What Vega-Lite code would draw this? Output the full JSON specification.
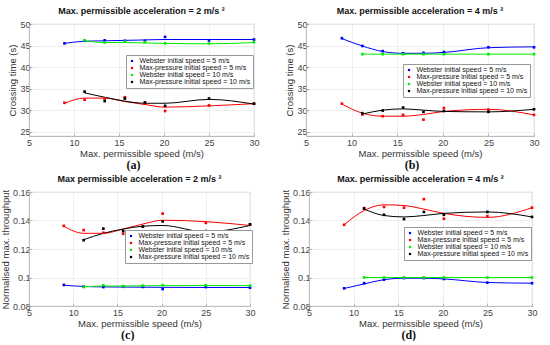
{
"$schema": "https://vega.github.io/schema/vega-lite/v6.json",
"padding": {"left": 0, "top": 6, "right": 4, "bottom": 0},
"background": "white",
"config": {
  "font": "Liberation Sans",
  "view": {"stroke": "#b5b5b5", "strokeWidth": 0.8},
  "axis": {"grid": true, "gridColor": "#ebebeb", "gridWidth": 0.8, "domainColor": "#b5b5b5", "domainWidth": 0.8, "tickColor": "#b5b5b5", "tickSize": -3, "labelPadding": 2, "labelFontSize": 9, "labelColor": "#444", "labelOverlap": false, "labelFlush": false, "titleFontSize": 9.5, "titleFontWeight": "normal", "titleColor": "#333", "titlePadding": 2},
  "axisX": {"labelPadding": 5, "titlePadding": 1},
  "title": {"fontSize": 9, "fontWeight": "bold", "color": "#111", "offset": 4, "anchor": "middle"},
  "legend": {"orient": "none", "labelFontSize": 7, "labelColor": "#111", "symbolType": "square", "symbolSize": 5, "rowPadding": -1, "padding": 2.5, "strokeColor": "#999", "fillColor": "white", "labelLimit": 200, "symbolStrokeWidth": 0, "labelOffset": 4},
  "concat": {"spacing": 20}
},
"datasets": {
 "d": [
  {"p":"a","s":"Webster initial speed = 5 m/s","x":8.94,"y":45.5,"f":45.5},
  {"p":"a","s":"Webster initial speed = 5 m/s","x":11.18,"y":46.1,"f":46.0},
  {"p":"a","s":"Webster initial speed = 5 m/s","x":13.41,"y":46.2,"f":46.1},
  {"p":"a","s":"Webster initial speed = 5 m/s","x":15.65,"y":46.1,"f":46.2},
  {"p":"a","s":"Webster initial speed = 5 m/s","x":17.88,"y":46.1,"f":46.3},
  {"p":"a","s":"Webster initial speed = 5 m/s","x":20.12,"y":47.0,"f":46.4},
  {"p":"a","s":"Webster initial speed = 5 m/s","x":25,"y":46.2,"f":46.4},
  {"p":"a","s":"Webster initial speed = 5 m/s","x":30,"y":46.4,"f":46.4},
  {"p":"a","s":"Max-pressure initial speed = 5 m/s","x":8.94,"y":31.7,"f":31.6},
  {"p":"a","s":"Max-pressure initial speed = 5 m/s","x":11.18,"y":32.4,"f":32.8},
  {"p":"a","s":"Max-pressure initial speed = 5 m/s","x":13.41,"y":32.7,"f":32.8},
  {"p":"a","s":"Max-pressure initial speed = 5 m/s","x":15.65,"y":33.0,"f":32.0},
  {"p":"a","s":"Max-pressure initial speed = 5 m/s","x":17.88,"y":31.5,"f":31.3},
  {"p":"a","s":"Max-pressure initial speed = 5 m/s","x":20.12,"y":29.8,"f":30.7},
  {"p":"a","s":"Max-pressure initial speed = 5 m/s","x":25,"y":31.1,"f":31.0},
  {"p":"a","s":"Max-pressure initial speed = 5 m/s","x":30,"y":31.5,"f":31.5},
  {"p":"a","s":"Webster initial speed = 10 m/s","x":11.18,"y":46.2,"f":46.1},
  {"p":"a","s":"Webster initial speed = 10 m/s","x":13.41,"y":45.7,"f":45.7},
  {"p":"a","s":"Webster initial speed = 10 m/s","x":15.65,"y":45.9,"f":45.7},
  {"p":"a","s":"Webster initial speed = 10 m/s","x":17.88,"y":45.8,"f":45.6},
  {"p":"a","s":"Webster initial speed = 10 m/s","x":20.12,"y":45.5,"f":45.5},
  {"p":"a","s":"Webster initial speed = 10 m/s","x":25,"y":45.5,"f":45.4},
  {"p":"a","s":"Webster initial speed = 10 m/s","x":30,"y":45.8,"f":45.7},
  {"p":"a","s":"Max-pressure initial speed = 10 m/s","x":11.18,"y":34.3,"f":34.0},
  {"p":"a","s":"Max-pressure initial speed = 10 m/s","x":13.41,"y":32.1,"f":33.0},
  {"p":"a","s":"Max-pressure initial speed = 10 m/s","x":15.65,"y":32.7,"f":32.1},
  {"p":"a","s":"Max-pressure initial speed = 10 m/s","x":17.88,"y":31.8,"f":31.6},
  {"p":"a","s":"Max-pressure initial speed = 10 m/s","x":20.12,"y":31.0,"f":31.6},
  {"p":"a","s":"Max-pressure initial speed = 10 m/s","x":25,"y":32.7,"f":32.5},
  {"p":"a","s":"Max-pressure initial speed = 10 m/s","x":30,"y":31.5,"f":31.4},

  {"p":"b","s":"Webster initial speed = 5 m/s","x":8.94,"y":46.7,"f":46.6},
  {"p":"b","s":"Webster initial speed = 5 m/s","x":11.18,"y":44.9,"f":44.9},
  {"p":"b","s":"Webster initial speed = 5 m/s","x":13.41,"y":43.7,"f":43.6},
  {"p":"b","s":"Webster initial speed = 5 m/s","x":15.65,"y":43.2,"f":43.2},
  {"p":"b","s":"Webster initial speed = 5 m/s","x":17.88,"y":43.3,"f":43.2},
  {"p":"b","s":"Webster initial speed = 5 m/s","x":20.12,"y":43.5,"f":43.4},
  {"p":"b","s":"Webster initial speed = 5 m/s","x":25,"y":44.6,"f":44.5},
  {"p":"b","s":"Webster initial speed = 5 m/s","x":30,"y":44.6,"f":44.7},
  {"p":"b","s":"Max-pressure initial speed = 5 m/s","x":8.94,"y":31.5,"f":31.4},
  {"p":"b","s":"Max-pressure initial speed = 5 m/s","x":11.18,"y":29.0,"f":29.3},
  {"p":"b","s":"Max-pressure initial speed = 5 m/s","x":13.41,"y":28.6,"f":28.6},
  {"p":"b","s":"Max-pressure initial speed = 5 m/s","x":15.65,"y":28.9,"f":28.6},
  {"p":"b","s":"Max-pressure initial speed = 5 m/s","x":17.88,"y":27.8,"f":29.0},
  {"p":"b","s":"Max-pressure initial speed = 5 m/s","x":20.12,"y":30.5,"f":29.7},
  {"p":"b","s":"Max-pressure initial speed = 5 m/s","x":25,"y":30.1,"f":30.2},
  {"p":"b","s":"Max-pressure initial speed = 5 m/s","x":30,"y":28.9,"f":28.9},
  {"p":"b","s":"Webster initial speed = 10 m/s","x":11.18,"y":43.0,"f":43.0},
  {"p":"b","s":"Webster initial speed = 10 m/s","x":13.41,"y":43.0,"f":43.0},
  {"p":"b","s":"Webster initial speed = 10 m/s","x":15.65,"y":43.0,"f":43.0},
  {"p":"b","s":"Webster initial speed = 10 m/s","x":17.88,"y":43.0,"f":43.0},
  {"p":"b","s":"Webster initial speed = 10 m/s","x":20.12,"y":43.0,"f":43.0},
  {"p":"b","s":"Webster initial speed = 10 m/s","x":25,"y":43.0,"f":43.0},
  {"p":"b","s":"Webster initial speed = 10 m/s","x":30,"y":43.0,"f":43.0},
  {"p":"b","s":"Max-pressure initial speed = 10 m/s","x":11.18,"y":29.3,"f":29.1},
  {"p":"b","s":"Max-pressure initial speed = 10 m/s","x":13.41,"y":29.9,"f":30.0},
  {"p":"b","s":"Max-pressure initial speed = 10 m/s","x":15.65,"y":30.6,"f":30.3},
  {"p":"b","s":"Max-pressure initial speed = 10 m/s","x":17.88,"y":29.6,"f":30.0},
  {"p":"b","s":"Max-pressure initial speed = 10 m/s","x":20.12,"y":29.8,"f":29.7},
  {"p":"b","s":"Max-pressure initial speed = 10 m/s","x":25,"y":29.6,"f":29.6},
  {"p":"b","s":"Max-pressure initial speed = 10 m/s","x":30,"y":30.2,"f":30.2},

  {"p":"c","s":"Webster initial speed = 5 m/s","x":8.94,"y":0.0948,"f":0.0946},
  {"p":"c","s":"Webster initial speed = 5 m/s","x":11.18,"y":0.0936,"f":0.0937},
  {"p":"c","s":"Webster initial speed = 5 m/s","x":13.41,"y":0.0933,"f":0.0934},
  {"p":"c","s":"Webster initial speed = 5 m/s","x":15.65,"y":0.0935,"f":0.0933},
  {"p":"c","s":"Webster initial speed = 5 m/s","x":17.88,"y":0.0934,"f":0.0932},
  {"p":"c","s":"Webster initial speed = 5 m/s","x":20.12,"y":0.0919,"f":0.0931},
  {"p":"c","s":"Webster initial speed = 5 m/s","x":25,"y":0.0933,"f":0.0930},
  {"p":"c","s":"Webster initial speed = 5 m/s","x":30,"y":0.0929,"f":0.0930},
  {"p":"c","s":"Max-pressure initial speed = 5 m/s","x":8.94,"y":0.1362,"f":0.1360},
  {"p":"c","s":"Max-pressure initial speed = 5 m/s","x":11.18,"y":0.1333,"f":0.1310},
  {"p":"c","s":"Max-pressure initial speed = 5 m/s","x":13.41,"y":0.1314,"f":0.1310},
  {"p":"c","s":"Max-pressure initial speed = 5 m/s","x":15.65,"y":0.1307,"f":0.1340},
  {"p":"c","s":"Max-pressure initial speed = 5 m/s","x":17.88,"y":0.1357,"f":0.1375},
  {"p":"c","s":"Max-pressure initial speed = 5 m/s","x":20.12,"y":0.1448,"f":0.1402},
  {"p":"c","s":"Max-pressure initial speed = 5 m/s","x":25,"y":0.1383,"f":0.1392},
  {"p":"c","s":"Max-pressure initial speed = 5 m/s","x":30,"y":0.1371,"f":0.1365},
  {"p":"c","s":"Webster initial speed = 10 m/s","x":11.18,"y":0.0933,"f":0.0935},
  {"p":"c","s":"Webster initial speed = 10 m/s","x":13.41,"y":0.0946,"f":0.0940},
  {"p":"c","s":"Webster initial speed = 10 m/s","x":15.65,"y":0.0939,"f":0.0940},
  {"p":"c","s":"Webster initial speed = 10 m/s","x":17.88,"y":0.0943,"f":0.0942},
  {"p":"c","s":"Webster initial speed = 10 m/s","x":20.12,"y":0.0946,"f":0.0943},
  {"p":"c","s":"Webster initial speed = 10 m/s","x":25,"y":0.0946,"f":0.0944},
  {"p":"c","s":"Webster initial speed = 10 m/s","x":30,"y":0.0943,"f":0.0943},
  {"p":"c","s":"Max-pressure initial speed = 10 m/s","x":11.18,"y":0.1262,"f":0.1265},
  {"p":"c","s":"Max-pressure initial speed = 10 m/s","x":13.41,"y":0.1343,"f":0.1310},
  {"p":"c","s":"Max-pressure initial speed = 10 m/s","x":15.65,"y":0.1326,"f":0.1340},
  {"p":"c","s":"Max-pressure initial speed = 10 m/s","x":17.88,"y":0.1357,"f":0.1360},
  {"p":"c","s":"Max-pressure initial speed = 10 m/s","x":20.12,"y":0.1394,"f":0.1365},
  {"p":"c","s":"Max-pressure initial speed = 10 m/s","x":25,"y":0.1326,"f":0.1320},
  {"p":"c","s":"Max-pressure initial speed = 10 m/s","x":30,"y":0.1373,"f":0.1365},

  {"p":"d","s":"Webster initial speed = 5 m/s","x":8.94,"y":0.0924,"f":0.0923},
  {"p":"d","s":"Webster initial speed = 5 m/s","x":11.18,"y":0.0960,"f":0.0955},
  {"p":"d","s":"Webster initial speed = 5 m/s","x":13.41,"y":0.0985,"f":0.0985},
  {"p":"d","s":"Webster initial speed = 5 m/s","x":15.65,"y":0.0996,"f":0.0995},
  {"p":"d","s":"Webster initial speed = 5 m/s","x":17.88,"y":0.0996,"f":0.0995},
  {"p":"d","s":"Webster initial speed = 5 m/s","x":20.12,"y":0.0990,"f":0.0990},
  {"p":"d","s":"Webster initial speed = 5 m/s","x":25,"y":0.0964,"f":0.0965},
  {"p":"d","s":"Webster initial speed = 5 m/s","x":30,"y":0.0960,"f":0.0960},
  {"p":"d","s":"Max-pressure initial speed = 5 m/s","x":8.94,"y":0.1370,"f":0.1370},
  {"p":"d","s":"Max-pressure initial speed = 5 m/s","x":11.18,"y":0.1487,"f":0.1470},
  {"p":"d","s":"Max-pressure initial speed = 5 m/s","x":13.41,"y":0.1495,"f":0.1510},
  {"p":"d","s":"Max-pressure initial speed = 5 m/s","x":15.65,"y":0.1490,"f":0.1505},
  {"p":"d","s":"Max-pressure initial speed = 5 m/s","x":17.88,"y":0.1550,"f":0.1480},
  {"p":"d","s":"Max-pressure initial speed = 5 m/s","x":20.12,"y":0.1412,"f":0.1450},
  {"p":"d","s":"Max-pressure initial speed = 5 m/s","x":25,"y":0.1430,"f":0.1422},
  {"p":"d","s":"Max-pressure initial speed = 5 m/s","x":30,"y":0.1490,"f":0.1490},
  {"p":"d","s":"Webster initial speed = 10 m/s","x":11.18,"y":0.1000,"f":0.1000},
  {"p":"d","s":"Webster initial speed = 10 m/s","x":13.41,"y":0.1000,"f":0.1000},
  {"p":"d","s":"Webster initial speed = 10 m/s","x":15.65,"y":0.1000,"f":0.1000},
  {"p":"d","s":"Webster initial speed = 10 m/s","x":17.88,"y":0.1000,"f":0.1000},
  {"p":"d","s":"Webster initial speed = 10 m/s","x":20.12,"y":0.1000,"f":0.1000},
  {"p":"d","s":"Webster initial speed = 10 m/s","x":25,"y":0.1000,"f":0.1000},
  {"p":"d","s":"Webster initial speed = 10 m/s","x":30,"y":0.1000,"f":0.1000},
  {"p":"d","s":"Max-pressure initial speed = 10 m/s","x":11.18,"y":0.1483,"f":0.1480},
  {"p":"d","s":"Max-pressure initial speed = 10 m/s","x":13.41,"y":0.1440,"f":0.1435},
  {"p":"d","s":"Max-pressure initial speed = 10 m/s","x":15.65,"y":0.1410,"f":0.1425},
  {"p":"d","s":"Max-pressure initial speed = 10 m/s","x":17.88,"y":0.1460,"f":0.1435},
  {"p":"d","s":"Max-pressure initial speed = 10 m/s","x":20.12,"y":0.1440,"f":0.1450},
  {"p":"d","s":"Max-pressure initial speed = 10 m/s","x":25,"y":0.1460,"f":0.1460},
  {"p":"d","s":"Max-pressure initial speed = 10 m/s","x":30,"y":0.1425,"f":0.1425}
 ]
},
"resolve": {"legend": {"color": "independent"}, "scale": {"y": "independent"}},
"spacing": 3,
"vconcat": [
 {
  "resolve": {"legend": {"color": "independent"}, "scale": {"y": "independent"}},
  "spacing": 24,
  "hconcat": [
   {
    "title": {"text": "(a)", "orient": "bottom", "font": "Liberation Serif", "fontSize": 12, "fontWeight": "bold", "offset": 2},
    "vconcat": [{
     "width": 225, "height": 112,
     "title": {"text": "Max. permissible acceleration = 2 m/s ²"},
     "data": {"name": "d"},
     "transform": [{"filter": "datum.p == 'a'"}],
     "encoding": {
      "x": {"field": "x", "type": "quantitative", "scale": {"domain": [5, 30]}, "axis": {"values": [5,10,15,20,25,30], "title": "Max. permissible speed (m/s)"}},
      "color": {"field": "s", "type": "nominal", "scale": {"domain": ["Webster initial speed = 5 m/s","Max-pressure initial speed = 5 m/s","Webster initial speed = 10 m/s","Max-pressure initial speed = 10 m/s"], "range": ["#0000ff","#ff0000","#00ee00","#000000"]}, "legend": {"title": null, "legendX": 97, "legendY": 31}}
     },
     "layer": [
      {"mark": {"type": "line", "strokeWidth": 1, "interpolate": "monotone"}, "encoding": {"y": {"field": "f", "type": "quantitative", "scale": {"domain": [25, 50]}, "axis": {"values": [25,30,35,40,45,50], "title": "Crossing time (s)"}}}},
      {"mark": {"type": "point", "shape": "square", "filled": true, "size": 7, "opacity": 1}, "encoding": {"y": {"field": "y", "type": "quantitative", "axis": {"values": [25,30,35,40,45,50], "title": "Crossing time (s)"}}}}
     ]
    }]
   },
   {
    "title": {"text": "(b)", "orient": "bottom", "font": "Liberation Serif", "fontSize": 12, "fontWeight": "bold", "offset": 2},
    "vconcat": [{
     "width": 228, "height": 112,
     "title": {"text": "Max. permissible acceleration = 4 m/s ²"},
     "data": {"name": "d"},
     "transform": [{"filter": "datum.p == 'b'"}],
     "encoding": {
      "x": {"field": "x", "type": "quantitative", "scale": {"domain": [5, 30]}, "axis": {"values": [5,10,15,20,25,30], "title": "Max. permissible speed (m/s)"}},
      "color": {"field": "s", "type": "nominal", "scale": {"domain": ["Webster initial speed = 5 m/s","Max-pressure initial speed = 5 m/s","Webster initial speed = 10 m/s","Max-pressure initial speed = 10 m/s"], "range": ["#0000ff","#ff0000","#00ee00","#000000"]}, "legend": {"title": null, "legendX": 97, "legendY": 40}}
     },
     "layer": [
      {"mark": {"type": "line", "strokeWidth": 1, "interpolate": "monotone"}, "encoding": {"y": {"field": "f", "type": "quantitative", "scale": {"domain": [25, 50]}, "axis": {"values": [25,30,35,40,45,50], "title": "Crossing time (s)"}}}},
      {"mark": {"type": "point", "shape": "square", "filled": true, "size": 7, "opacity": 1}, "encoding": {"y": {"field": "y", "type": "quantitative", "axis": {"values": [25,30,35,40,45,50], "title": "Crossing time (s)"}}}}
     ]
    }]
   }
  ]
 },
 {
  "resolve": {"legend": {"color": "independent"}, "scale": {"y": "independent"}},
  "spacing": 24,
  "hconcat": [
   {
    "title": {"text": "(c)", "orient": "bottom", "font": "Liberation Serif", "fontSize": 12, "fontWeight": "bold", "offset": 2},
    "vconcat": [{
     "width": 221, "height": 114,
     "title": {"text": "Max permissible acceleration = 2 m/s ²"},
     "data": {"name": "d"},
     "transform": [{"filter": "datum.p == 'c'"}],
     "encoding": {
      "x": {"field": "x", "type": "quantitative", "scale": {"domain": [5, 30]}, "axis": {"values": [5,10,15,20,25,30], "title": "Max. permissible speed (m/s)"}},
      "color": {"field": "s", "type": "nominal", "scale": {"domain": ["Webster initial speed = 5 m/s","Max-pressure initial speed = 5 m/s","Webster initial speed = 10 m/s","Max-pressure initial speed = 10 m/s"], "range": ["#0000ff","#ff0000","#00ee00","#000000"]}, "legend": {"title": null, "legendX": 96, "legendY": 38}}
     },
     "layer": [
      {"mark": {"type": "line", "strokeWidth": 1, "interpolate": "monotone"}, "encoding": {"y": {"field": "f", "type": "quantitative", "scale": {"domain": [0.08, 0.16]}, "axis": {"values": [0.08,0.1,0.12,0.14,0.16], "format": "~g", "title": "Normalised max. throughput"}}}},
      {"mark": {"type": "point", "shape": "square", "filled": true, "size": 7, "opacity": 1}, "encoding": {"y": {"field": "y", "type": "quantitative", "axis": {"values": [0.08,0.1,0.12,0.14,0.16], "format": "~g", "title": "Normalised max. throughput"}}}}
     ]
    }]
   },
   {
    "title": {"text": "(d)", "orient": "bottom", "font": "Liberation Serif", "fontSize": 12, "fontWeight": "bold", "offset": 2},
    "vconcat": [{
     "width": 223, "height": 114,
     "title": {"text": "Max. permissible acceleration = 4 m/s ²"},
     "data": {"name": "d"},
     "transform": [{"filter": "datum.p == 'd'"}],
     "encoding": {
      "x": {"field": "x", "type": "quantitative", "scale": {"domain": [5, 30]}, "axis": {"values": [5,10,15,20,25,30], "title": "Max. permissible speed (m/s)"}},
      "color": {"field": "s", "type": "nominal", "scale": {"domain": ["Webster initial speed = 5 m/s","Max-pressure initial speed = 5 m/s","Webster initial speed = 10 m/s","Max-pressure initial speed = 10 m/s"], "range": ["#0000ff","#ff0000","#00ee00","#000000"]}, "legend": {"title": null, "legendX": 95, "legendY": 35}}
     },
     "layer": [
      {"mark": {"type": "line", "strokeWidth": 1, "interpolate": "monotone"}, "encoding": {"y": {"field": "f", "type": "quantitative", "scale": {"domain": [0.08, 0.16]}, "axis": {"values": [0.08,0.1,0.12,0.14,0.16], "format": "~g", "title": "Normalised max. throughput"}}}},
      {"mark": {"type": "point", "shape": "square", "filled": true, "size": 7, "opacity": 1}, "encoding": {"y": {"field": "y", "type": "quantitative", "axis": {"values": [0.08,0.1,0.12,0.14,0.16], "format": "~g", "title": "Normalised max. throughput"}}}}
     ]
    }]
   }
  ]
 }
]
}
